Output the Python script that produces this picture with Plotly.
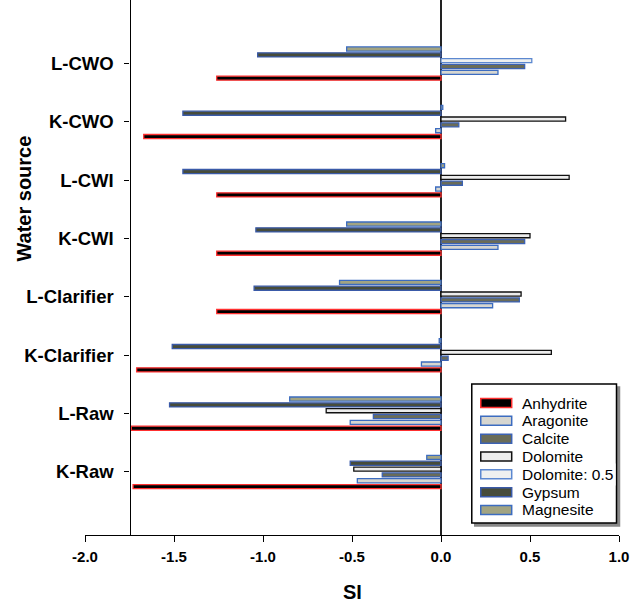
import plotly.graph_objects as go

# ---------------- data ----------------
categories = ["K-Raw", "L-Raw", "K-Clarifier", "L-Clarifier",
              "K-CWI", "L-CWI", "K-CWO", "L-CWO"]

anhydrite     = [-1.73, -1.74, -1.71, -1.26, -1.26, -1.26, -1.67, -1.26]
aragonite     = [-0.47, -0.51, -0.11,  0.29,  0.32, -0.03, -0.03,  0.32]
calcite       = [-0.33, -0.38,  0.04,  0.44,  0.47,  0.12,  0.10,  0.47]
dolomite      = [-0.49, -0.645, 0.62,  0.45,  0.50,  0.72,  0.70,  None]
dolomite_half = [None,  None,  None,  None,  None,  None,  None,  0.51]
gypsum        = [-0.51, -1.525, -1.51, -1.05, -1.04, -1.45, -1.45, -1.03]
magnesite     = [-0.08, -0.85, -0.01, -0.57, -0.53,  0.02,  0.01, -0.53]

series_names = ["Anhydrite", "Aragonite", "Calcite", "Dolomite",
                "Dolomite: 0.5", "Gypsum", "Magnesite"]
series_values = [anhydrite, aragonite, calcite, dolomite,
                 dolomite_half, gypsum, magnesite]
x_ticks = [-2.0, -1.5, -1.0, -0.5, 0.0, 0.5, 1.0]

# ---------------- style ----------------
fills = ["#000000", "#d6d6d0", "#6a6c58", "#ececec", "#eef0f0", "#474c3a", "#a2a482"]
lines = ["#ff3030", "#3c6cc0", "#3c62b4", "#111111", "#5c88d0", "#3a5aa8", "#3c6cc0"]
groups = ["a", "b", "c", "d", "d", "e", "f"]

FONT = "Arial, Liberation Sans, sans-serif"
XMIN, XMAX = -2.0, 1.0
L, R, T, B = 84.5, 18.5, 0, 69
W, H = 638, 604
PW, PH = W - L - R, H - T - B

def px2x(px):
    return (px - L) / PW

def py2y(py):
    return (H - B - py) / PH

fig = go.Figure()
for name, vals, fc, lc, g in zip(series_names, series_values, fills, lines, groups):
    fig.add_trace(go.Bar(
        y=categories, x=vals, name=name, orientation="h",
        offsetgroup=g,
        marker=dict(color=fc, line=dict(color=lc, width=1.3)),
        showlegend=False,
    ))

fig.update_layout(
    width=W, height=H,
    margin=dict(l=L, r=R, t=T, b=B, pad=0),
    paper_bgcolor="white", plot_bgcolor="white",
    barmode="group", bargap=0.4, bargroupgap=0.3,
    font=dict(family=FONT, color="black"),
    xaxis=dict(
        range=[XMIN, XMAX], tickvals=x_ticks,
        ticktext=[f"{v:.1f}" for v in x_ticks],
        showgrid=False, showline=True, linecolor="black", linewidth=1.3,
        ticks="outside", ticklen=6, tickwidth=1.3, tickcolor="black",
        tickfont=dict(family=FONT, size=15, weight="bold"),
        ticklabelstandoff=2,
        zeroline=True, zerolinecolor="#222222", zerolinewidth=1.5,
        fixedrange=True,
    ),
    yaxis=dict(
        type="category", categoryorder="array", categoryarray=categories,
        range=[-1.08, len(categories) - 1 + 1.09],
        anchor="free", position=(-1.75 - XMIN) / (XMAX - XMIN),
        showgrid=False, showline=True, linecolor="black", linewidth=1.3,
        ticks="outside", ticklen=5, tickwidth=1.3, tickcolor="black",
        tickfont=dict(family=FONT, size=18.5, weight="bold"),
        ticklabelstandoff=7,
        zeroline=False, fixedrange=True,
    ),
)

# axis titles
fig.add_annotation(xref="paper", yref="paper", x=px2x(353), y=py2y(592),
                   text="<b>SI</b>", showarrow=False,
                   font=dict(family=FONT, size=20), xanchor="center", yanchor="middle")
fig.add_annotation(xref="paper", yref="paper", x=px2x(23), y=py2y(199),
                   text="<b>Water source</b>", showarrow=False, textangle=-90,
                   font=dict(family=FONT, size=20), xanchor="center", yanchor="middle")

# legend box (drawn from the series lists)
bx0, by0, bx1, by1 = 472, 384, 617, 523
fig.add_shape(type="rect", xref="paper", yref="paper",
              x0=px2x(bx0 + 3), y0=py2y(by1 + 3), x1=px2x(bx1 + 3), y1=py2y(by0 + 3),
              line=dict(color="#888888", width=1.5), fillcolor="#888888", layer="above")
fig.add_shape(type="rect", xref="paper", yref="paper",
              x0=px2x(bx0), y0=py2y(by1), x1=px2x(bx1), y1=py2y(by0),
              line=dict(color="black", width=1.5), fillcolor="white", layer="above")
for i, (name, fc, lc) in enumerate(zip(series_names, fills, lines)):
    cy = 403 + i * 17.83
    fig.add_shape(type="rect", xref="paper", yref="paper",
                  x0=px2x(481), x1=px2x(512), y0=py2y(cy + 4.5), y1=py2y(cy - 4.5),
                  line=dict(color=lc, width=1.5), fillcolor=fc, layer="above")
    fig.add_annotation(xref="paper", yref="paper", x=px2x(519), y=py2y(cy),
                       text=name, showarrow=False, xanchor="left", yanchor="middle",
                       bgcolor="white" if name == "Dolomite: 0.5" else None,
                       borderpad=2,
                       font=dict(family=FONT, size=15.5, color="black"))

fig.write_html("out.html", config={"displayModeBar": False},
               post_script="document.body.style.margin='0';")
